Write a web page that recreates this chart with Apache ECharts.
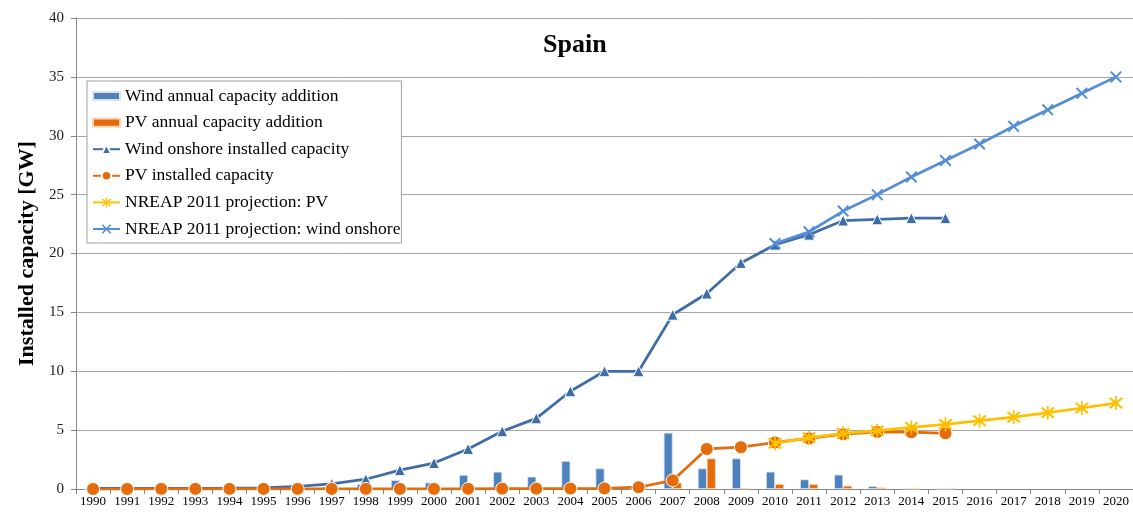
<!DOCTYPE html>
<html><head><meta charset="utf-8">
<script src="https://cdn.jsdelivr.net/npm/echarts@6/dist/echarts.min.js"></script>
<style>html,body{margin:0;padding:0;background:#fff}#c{width:1133px;height:512px}</style>
</head><body><div id="c"></div>
<script>
const years = ['1990','1991','1992','1993','1994','1995','1996','1997','1998','1999','2000','2001','2002','2003','2004','2005','2006','2007','2008','2009','2010','2011','2012','2013','2014','2015','2016','2017','2018','2019','2020'];
const windAnnual = [0.01,0.01,0.01,0.01,0.02,0.03,0.1,0.2,0.4,0.75,0.55,1.2,1.47,1.05,2.38,1.75,0.02,4.78,1.75,2.6,1.47,0.82,1.22,0.25,0.03,0.02,null,null,null,null,null];
const pvAnnual = [0,0,0,0,0,0,0,0,0,0,0.01,0.01,0.01,0.01,0.02,0.03,0.1,0.55,2.6,0.05,0.42,0.42,0.28,0.13,0.02,0.02,null,null,null,null,null];
const windInstalled = [0.05,0.05,0.05,0.06,0.07,0.1,0.23,0.44,0.83,1.6,2.2,3.4,4.9,6.0,8.3,10.0,10.0,14.8,16.6,19.2,20.75,21.6,22.8,22.9,23.0,23.0,null,null,null,null,null];
const pvInstalled = [0.0,0.0,0.01,0.01,0.01,0.01,0.01,0.01,0.01,0.01,0.01,0.02,0.03,0.03,0.04,0.05,0.15,0.73,3.4,3.55,3.95,4.3,4.65,4.85,4.82,4.73,null,null,null,null,null];
const nreapPV = [null,null,null,null,null,null,null,null,null,null,null,null,null,null,null,null,null,null,null,null,3.88,4.36,4.73,4.95,5.23,5.49,5.8,6.11,6.48,6.88,7.3];
const nreapWind = [null,null,null,null,null,null,null,null,null,null,null,null,null,null,null,null,null,null,null,null,20.85,21.85,23.6,25.0,26.5,27.9,29.3,30.8,32.2,33.6,35.0];
const yTicks = {min:0, max:40, interval:5};

const serif = '"Liberation Serif","Times New Roman",serif';
const xPath = 'path://M0,1.2L1.2,0L10,8.8L8.8,10ZM8.8,0L10,1.2L1.2,10L0,8.8Z';
const starPath = 'path://M0,1.2L1.2,0L10,8.8L8.8,10ZM8.8,0L10,1.2L1.2,10L0,8.8ZM4.4,-1L5.6,-1L5.6,11L4.4,11Z';
const barIcon = 'path://M0,0L30,0L30,9L0,9Z';

const chart = echarts.init(document.getElementById('c'), null, {renderer:'canvas'});
chart.setOption({
  animation:false,
  backgroundColor:'#fff',
  title:{text:'Spain', left:538, top:27,
    textStyle:{fontFamily:serif, fontSize:26, fontWeight:'bold', color:'#000'}},
  grid:{left:76, right:-1, top:18, bottom:23, containLabel:false},
  legend:{
    orient:'vertical', left:87, top:81,
    backgroundColor:'#fff', borderColor:'#a0a0a0', borderWidth:1,
    padding:[6,1,5,5], itemGap:8.6, itemWidth:27, itemHeight:12,
    textStyle:{fontFamily:serif, fontSize:17.5, color:'#000', lineHeight:16},
    data:[
      {name:'Wind annual capacity addition', icon:barIcon},
      {name:'PV annual capacity addition', icon:barIcon},
      'Wind onshore installed capacity','PV installed capacity','NREAP 2011 projection: PV','NREAP 2011 projection: wind onshore']
  },
  xAxis:{
    type:'category', data:years, boundaryGap:true,
    axisLine:{lineStyle:{color:'#888', width:1}},
    axisTick:{show:true, interval:0, length:5, lineStyle:{color:'#888'}},
    axisLabel:{interval:0, fontFamily:serif, fontSize:13, color:'#000', margin:6}
  },
  yAxis:{
    type:'value', min:yTicks.min, max:yTicks.max, interval:yTicks.interval,
    name:'Installed capacity [GW]', nameLocation:'middle', nameGap:38,
    nameTextStyle:{fontFamily:serif, fontSize:22, fontWeight:'bold', color:'#000'},
    axisLine:{show:true, lineStyle:{color:'#888'}},
    axisTick:{show:true, length:5, lineStyle:{color:'#888'}},
    axisLabel:{fontFamily:serif, fontSize:15, color:'#222', margin:12},
    splitLine:{lineStyle:{color:'#a6a6a6', width:1}}
  },
  series:[
    {name:'Wind annual capacity addition', type:'bar', data:windAnnual, barWidth:9, barGap:'0%',
      itemStyle:{color:'#4F81BD', borderColor:'#dbe5f1', borderWidth:0.8}, z:1},
    {name:'PV annual capacity addition', type:'bar', data:pvAnnual, barWidth:9, barGap:'0%',
      itemStyle:{color:'#E46C0A', borderColor:'#fbd5b5', borderWidth:0.8}, z:1},
    {name:'Wind onshore installed capacity', type:'line', data:windInstalled, connectNulls:false,
      symbol:'triangle', symbolSize:11, showAllSymbol:true,
      lineStyle:{color:'#3E6DA9', width:2.75}, itemStyle:{color:'#3E6DA9', borderColor:'#fff', borderWidth:1}, z:3},
    {name:'PV installed capacity', type:'line', data:pvInstalled,
      symbol:'circle', symbolSize:13, showAllSymbol:true,
      lineStyle:{color:'#E46C0A', width:2.75}, itemStyle:{color:'#E46C0A', borderColor:'#fff', borderWidth:1}, z:4},
    {name:'NREAP 2011 projection: PV', type:'line', data:nreapPV,
      symbol:starPath, symbolSize:14, showAllSymbol:true,
      lineStyle:{color:'#FFC000', width:2.75}, itemStyle:{color:'#FFC000'}, z:5},
    {name:'NREAP 2011 projection: wind onshore', type:'line', data:nreapWind,
      symbol:xPath, symbolSize:12, showAllSymbol:true,
      lineStyle:{color:'#558ED5', width:2.75}, itemStyle:{color:'#558ED5'}, z:5}
  ]
});
</script></body></html>
